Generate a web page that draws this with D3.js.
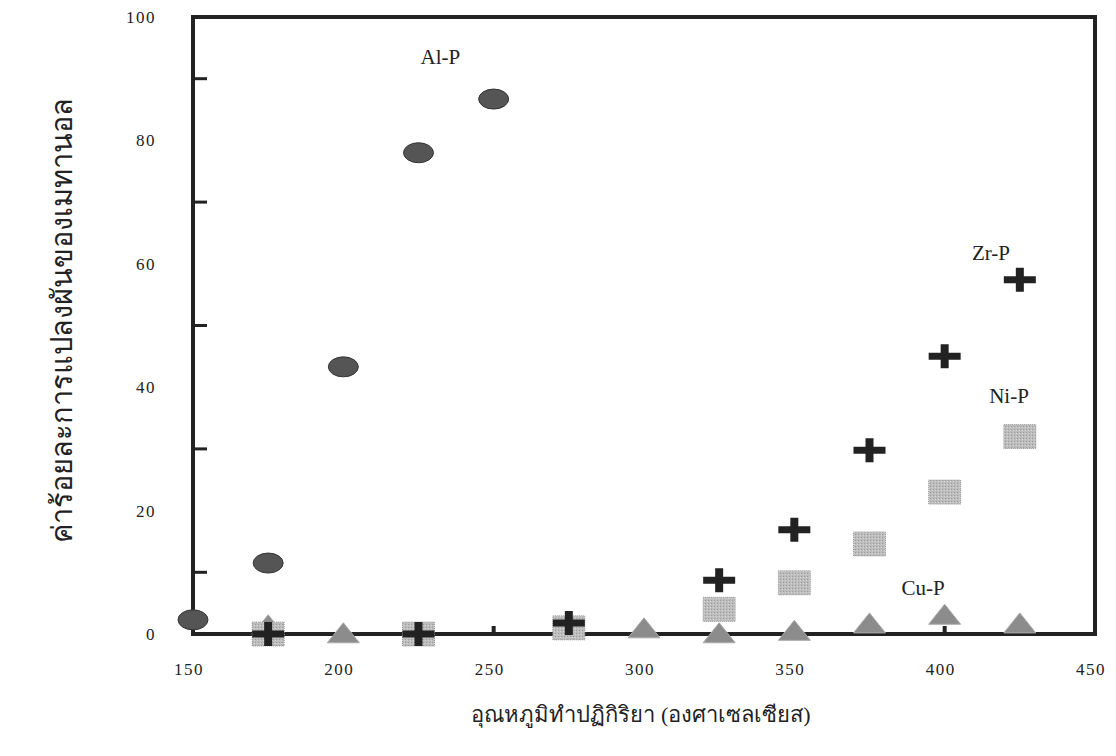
<!DOCTYPE html>
<meta charset="utf-8">
<title>methanol conversion</title>
<style>
body {
  margin: 0;
  background: white;
}
text {
  font-family: 'Liberation Serif', 'DejaVu Serif', serif;
  fill: #222;
}
.tick-label {
  font-size: 17px;
  letter-spacing: 1.5px;
}
.series-label {
  font-size: 21px;
}
.axis-title {
  font-size: 24px;
  fill: #222;
}
</style>
<svg width="1116" height="756"></svg>
<script src="https://d3js.org/d3.v7.min.js"></script>
<script>
// reaction temperature (°C)
var temps = [150, 175, 200, 225, 250, 275, 300, 325, 350, 375, 400, 425];

// % methanol conversion (null = no point)
var alP = [2.3, 11.5, 43.3, 78, 86.7, null, null, null, null, null, null, null];
var zrP = [null, 0, null, 0, null, 1.8, null, 8.7, 16.9, 29.8, 45, 57.4];
var niP = [null, 0, null, 0, null, 1.0, null, 4.0, 8.3, 14.6, 23, 32];
var cuP = [null, 1.5, 0.2, null, null, null, 1.0, 0.2, 0.6, 1.8, 3.2, 1.8];

var xTicks = [150, 200, 250, 300, 350, 400, 450];
var yTicks = [0, 20, 40, 60, 80, 100];
var yMinor = [10, 30, 50, 70, 90];

var labels = [
  {name: "Al-P", t: 232.3, v: 92.4},
  {name: "Zr-P", t: 415.4, v: 60.6},
  {name: "Ni-P", t: 421.4, v: 37.4},
  {name: "Cu-P", t: 392.8, v: 6.3}
];

var svg = d3.select("svg");

var x = d3.scaleLinear().domain([150, 450]).range([193, 1095]);
var y = d3.scaleLinear().domain([0, 100]).range([634, 17]);

function pts(vals) {
  return temps.map(function(t, i) { return {t: t, v: vals[i]}; })
    .filter(function(d) { return d.v != null; });
}

// texture for the Ni-P squares
var defs = svg.append("defs");
var pat = defs.append("pattern")
    .attr("id", "dots")
    .attr("width", 3).attr("height", 3)
    .attr("patternUnits", "userSpaceOnUse");
pat.append("rect").attr("width", 3).attr("height", 3).attr("fill", "#bdbdbd");
pat.append("rect").attr("width", 1).attr("height", 1).attr("fill", "#9a9a9a");
pat.append("rect").attr("x", 2).attr("y", 1).attr("width", 1).attr("height", 1).attr("fill", "#d6d6d6");

// frame
svg.append("rect")
    .attr("x", x(150)).attr("y", y(100))
    .attr("width", x(450) - x(150)).attr("height", y(0) - y(100))
    .attr("fill", "none")
    .attr("stroke", "#222")
    .attr("stroke-width", 4);

// inside ticks
svg.selectAll(".ytick")
  .data(yMinor)
  .enter().append("line")
    .attr("x1", x(150)).attr("x2", x(150) + 14)
    .attr("y1", y).attr("y2", y)
    .attr("stroke", "#222").attr("stroke-width", 3);

svg.selectAll(".xtick")
  .data(xTicks.slice(1, -1))
  .enter().append("line")
    .attr("x1", x).attr("x2", x)
    .attr("y1", y(0)).attr("y2", y(0) - 8)
    .attr("stroke", "#222").attr("stroke-width", 4);

// tick labels
svg.selectAll(".xl")
  .data(xTicks)
  .enter().append("text")
    .attr("class", "tick-label")
    .attr("x", function(d) { return x(d) - 4; })
    .attr("y", 675)
    .attr("text-anchor", "middle")
    .text(function(d) { return d; });

svg.selectAll(".yl")
  .data(yTicks)
  .enter().append("text")
    .attr("class", "tick-label")
    .attr("x", 156)
    .attr("y", function(d) { return y(d) + 6; })
    .attr("text-anchor", "end")
    .text(function(d) { return d; });

// Al-P: dark ellipses
svg.selectAll(".al")
  .data(pts(alP))
  .enter().append("ellipse")
    .attr("cx", function(d) { return x(d.t); })
    .attr("cy", function(d) { return y(d.v); })
    .attr("rx", 15).attr("ry", 10)
    .attr("fill", "#555")
    .attr("stroke", "#333").attr("stroke-width", 1);

// Cu-P: grey triangles
svg.selectAll(".cu")
  .data(pts(cuP))
  .enter().append("path")
    .attr("transform", function(d) { return "translate(" + x(d.t) + "," + y(d.v) + ")"; })
    .attr("d", "M0,-10L16,10L-16,10Z")
    .attr("fill", "#8c8c8c")
    .attr("stroke", "#aaa").attr("stroke-width", 1);

// Ni-P: light textured squares
svg.selectAll(".ni")
  .data(pts(niP))
  .enter().append("rect")
    .attr("x", function(d) { return x(d.t) - 16; })
    .attr("y", function(d) { return y(d.v) - 12; })
    .attr("width", 32).attr("height", 24)
    .attr("fill", "url(#dots)")
    .attr("stroke", "#999").attr("stroke-width", 1)
    .attr("stroke-dasharray", "1,1");

// Zr-P: black plus signs
svg.selectAll(".zr")
  .data(pts(zrP))
  .enter().append("path")
    .attr("transform", function(d) { return "translate(" + x(d.t) + "," + y(d.v) + ")"; })
    .attr("d", "M-16,-3.5H-4V-12H4V-3.5H16V3.5H4V12H-4V3.5H-16Z")
    .attr("fill", "#222");

// series labels
svg.selectAll(".sl")
  .data(labels)
  .enter().append("text")
    .attr("class", "series-label")
    .attr("x", function(d) { return x(d.t); })
    .attr("y", function(d) { return y(d.v); })
    .attr("text-anchor", "middle")
    .text(function(d) { return d.name; });

// axis titles
svg.append("text")
    .attr("class", "axis-title")
    .attr("x", 641).attr("y", 722)
    .attr("text-anchor", "middle")
    .style("font-size", "22px")
    .text("อุณหภูมิทำปฏิกิริยา (องศาเซลเซียส)");

svg.append("text")
    .attr("class", "axis-title")
    .attr("transform", "translate(72,320) rotate(-90)")
    .attr("text-anchor", "middle")
    .style("font-size", "29px")
    .text("ค่าร้อยละการแปลงผันของเมทานอล");
</script>
